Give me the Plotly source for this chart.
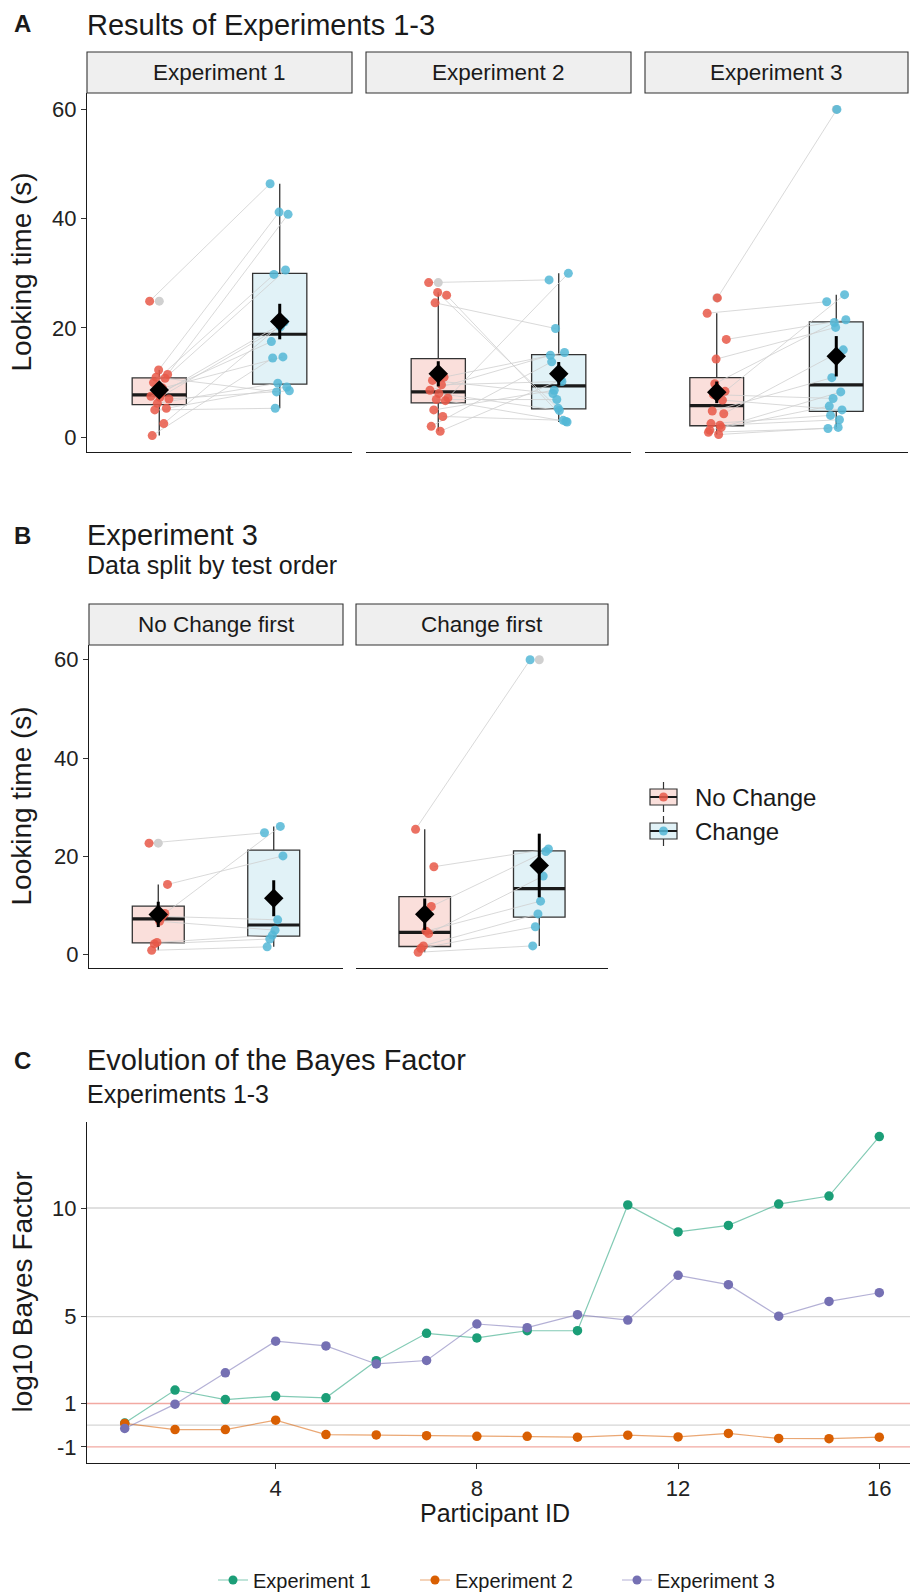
import numpy as np
import plotly.graph_objects as go

W, H = 910, 1595

# ---------------- data ----------------
conditions = ["No Change", "Change"]
looking_ticks = [0, 20, 40, 60]

# Panel A: paired looking times (s), one entry per participant
exp1_no_change = [24.9, 12.3, 11.5, 11.0, 10.8, 10.0, 9.0, 7.5, 7.3, 7.0, 6.2, 5.3, 5.0, 2.5, 0.3, 8.0]
exp1_change = [46.4, 41.2, 40.8, 8.3, 30.6, 29.8, 14.7, 17.5, 20.2, 8.5, 9.9, 9.2, 5.3, 21.1, 14.5, 20.8]
exp2_no_change = [28.3, 26.5, 26.0, 24.6, 11.0, 10.4, 9.6, 8.6, 8.0, 7.2, 6.9, 6.7, 5.0, 3.8, 2.0, 1.1]
exp2_change = [28.8, 5.3, 2.8, 19.9, 15.5, 8.0, 10.2, 15.0, 4.9, 30.0, 6.9, 2.9, 8.6, 3.1, 13.8, 10.5]

# Panel B: Experiment 3 split by test order
ncfirst_no_change = [22.7, 14.3, 8.4, 7.8, 6.8, 2.5, 2.2, 0.9]
ncfirst_change = [24.8, 20.1, 26.1, 7.1, 5.0, 4.0, 3.2, 1.6]
cfirst_no_change = [25.5, 17.9, 9.8, 4.3, 4.8, 1.8, 1.3, 0.5]
cfirst_change = [60.0, 21.5, 21.0, 16.0, 10.9, 8.3, 5.7, 1.8]

exp3_no_change = ncfirst_no_change + cfirst_no_change
exp3_change = ncfirst_change + cfirst_change

panel_a_titles = ["Experiment 1", "Experiment 2", "Experiment 3"]
panel_b_titles = ["No Change first", "Change first"]

# Panel C: evolution of log10 Bayes factor
participant_id = list(range(1, 17))
bf_exp1 = [0.1, 1.62, 1.18, 1.34, 1.26, 2.97, 4.23, 4.02, 4.35, 4.35, 10.14, 8.9, 9.2, 10.18, 10.55, 13.29]
bf_exp2 = [0.08, -0.2, -0.2, 0.23, -0.43, -0.45, -0.48, -0.51, -0.51, -0.55, -0.46, -0.54, -0.38, -0.61, -0.62, -0.55]
bf_exp3 = [-0.15, 0.97, 2.41, 3.87, 3.65, 2.82, 2.98, 4.66, 4.49, 5.09, 4.84, 6.9, 6.47, 5.02, 5.7, 6.1]
bf_names = ["Experiment 1", "Experiment 2", "Experiment 3"]
bf_ref_grey = [0, 5, 10]
bf_ref_red = [-1, 1]
bf_xticks = [4, 8, 12, 16]
bf_yticks = [-1, 1, 5, 10]
bf_yticklabels = ["-1", "1", "5", "10"]

# ---------------- styles ----------------
FONT = "Liberation Sans, Arial, sans-serif"
INK = "#1a1a1a"
RED_PT = "rgba(232,88,72,0.85)"
BLUE_PT = "rgba(84,183,214,0.85)"
RED_FILL = "#FADFDB"
BLUE_FILL = "#E1F2F7"
BF_COLORS = ["#1B9E77", "#D95F02", "#7570B3"]
BF_LINE = ["rgba(27,158,119,0.55)", "rgba(217,95,2,0.55)", "rgba(117,112,179,0.55)"]
TICK_SIZE = 22
AXT_SIZE = 28
TITLE_SIZE = 29
SUB_SIZE = 25


def px(x):
    return x / W


def py(y):
    return 1 - y / H


def box_stats(vals):
    v = np.sort(np.asarray(vals, float))
    q1, med, q3 = np.quantile(v, [0.25, 0.5, 0.75])
    iqr = q3 - q1
    lo, hi = q1 - 1.5 * iqr, q3 + 1.5 * iqr
    inside = v[(v >= lo) & (v <= hi)]
    out = v[(v < lo) | (v > hi)]
    return dict(q1=q1, med=med, q3=q3, lf=inside.min(), uf=inside.max(), out=out,
                mean=v.mean(), se=v.std(ddof=1) / np.sqrt(len(v)))


def jitter(n, spread=0.08):
    return [(((i * 7) % n) - (n - 1) / 2) / ((n - 1) / 2) * spread for i in range(n)]


fig = go.Figure()
layout = dict(shapes=[], annotations=[])
BOXW = 0.45


def add_text(text, x, y, size, bold=False, xanchor="left", angle=0, color=INK):
    layout["annotations"].append(dict(
        text=f"<b>{text}</b>" if bold else text, x=px(x), y=py(y), xref="paper", yref="paper",
        xanchor=xanchor, yanchor="middle", showarrow=False, textangle=angle,
        font=dict(family=FONT, size=size, color=color)))


def add_panel(idx, x0, x1, top, bottom, strip_top, title, nc, ch, show_y):
    xa = "x" if idx == 1 else f"x{idx}"
    ya = "y" if idx == 1 else f"y{idx}"
    layout[f"xaxis{idx}"] = dict(domain=[px(x0), px(x1)], range=[0.4, 2.6], anchor=ya,
                                 showline=True, linecolor=INK, linewidth=1.3, ticks="",
                                 showticklabels=False, showgrid=False, zeroline=False,
                                 automargin=False)
    layout[f"yaxis{idx}"] = dict(domain=[py(bottom), py(top)], range=[-2.7, 63], anchor=xa,
                                 showline=show_y, linecolor=INK, linewidth=1.3,
                                 ticks="outside" if show_y else "", ticklen=5, tickcolor="#333",
                                 tickvals=looking_ticks, showticklabels=show_y,
                                 tickfont=dict(family=FONT, size=TICK_SIZE, color="#222"),
                                 showgrid=False, zeroline=False, automargin=False)
    # strip
    layout["shapes"].append(dict(type="rect", xref="paper", yref="paper",
                                 x0=px(x0), x1=px(x1), y0=py(top), y1=py(strip_top),
                                 fillcolor="#EFEFEF", line=dict(color="#333", width=1.1)))
    add_text(title, (x0 + x1) / 2, (top + strip_top) / 2, 22.5, xanchor="center")

    groups = [(1, nc, RED_FILL, RED_PT), (2, ch, BLUE_FILL, BLUE_PT)]
    stats = [box_stats(g[1]) for g in groups]
    for (pos, vals, fill, col), s in zip(groups, stats):
        fig.add_trace(go.Box(x=[pos], q1=[s["q1"]], median=[s["med"]], q3=[s["q3"]],
                             lowerfence=[s["lf"]], upperfence=[s["uf"]], width=BOXW,
                             whiskerwidth=0, fillcolor=fill, boxpoints=False,
                             line=dict(color="#333", width=1.3), showlegend=False,
                             hoverinfo="skip", xaxis=xa, yaxis=ya))
        fig.add_trace(go.Scatter(x=[pos - BOXW / 2, pos + BOXW / 2], y=[s["med"], s["med"]],
                                 mode="lines", line=dict(color=INK, width=3.2),
                                 showlegend=False, hoverinfo="skip", xaxis=xa, yaxis=ya))
        if len(s["out"]):
            fig.add_trace(go.Scatter(x=[pos] * len(s["out"]), y=list(s["out"]), mode="markers",
                                     marker=dict(color="#D0D0D0", size=9), showlegend=False,
                                     hoverinfo="skip", xaxis=xa, yaxis=ya))
    jn = jitter(len(nc))
    jc = jitter(len(ch))
    lx, ly = [], []
    for i in range(len(nc)):
        lx += [1 + jn[i], 2 + jc[i], None]
        ly += [nc[i], ch[i], None]
    fig.add_trace(go.Scatter(x=lx, y=ly, mode="lines", line=dict(color="#CFCFCF", width=0.8),
                             showlegend=False, hoverinfo="skip", xaxis=xa, yaxis=ya))
    for (pos, vals, fill, col), jj in zip(groups, [jn, jc]):
        fig.add_trace(go.Scatter(x=[pos + j for j in jj], y=vals, mode="markers",
                                 marker=dict(color=col, size=9), showlegend=False,
                                 hoverinfo="skip", xaxis=xa, yaxis=ya))
    for (pos, vals, fill, col), s in zip(groups, stats):
        fig.add_trace(go.Scatter(x=[pos], y=[s["mean"]], mode="markers",
                                 marker=dict(symbol="diamond", color="black", size=15),
                                 error_y=dict(type="data", array=[s["se"]], color="black",
                                              thickness=3, width=0),
                                 showlegend=False, hoverinfo="skip", xaxis=xa, yaxis=ya))


# ---------------- Panel A ----------------
A_TOP, A_BOT, A_STRIP = 93, 452, 52
a_x = [(87, 352), (366, 631), (645, 908)]
a_data = [(exp1_no_change, exp1_change), (exp2_no_change, exp2_change), (exp3_no_change, exp3_change)]
for k in range(3):
    add_panel(k + 1, a_x[k][0], a_x[k][1], A_TOP, A_BOT, A_STRIP, panel_a_titles[k],
              a_data[k][0], a_data[k][1], k == 0)
add_text("A", 12, 24, 24, bold=True)
add_text("Results of Experiments 1-3", 85, 25, TITLE_SIZE)
add_text("Looking time (s)", 21, (A_TOP + A_BOT) / 2, AXT_SIZE, xanchor="center", angle=-90)

# ---------------- Panel B ----------------
B_TOP, B_BOT, B_STRIP = 645, 968, 604
b_x = [(89, 343), (356, 608)]
b_data = [(ncfirst_no_change, ncfirst_change), (cfirst_no_change, cfirst_change)]
for k in range(2):
    add_panel(k + 4, b_x[k][0], b_x[k][1], B_TOP, B_BOT, B_STRIP, panel_b_titles[k],
              b_data[k][0], b_data[k][1], k == 0)
add_text("B", 12, 535, 24, bold=True)
add_text("Experiment 3", 85, 535, TITLE_SIZE)
add_text("Data split by test order", 85, 565, SUB_SIZE)
add_text("Looking time (s)", 21, (B_TOP + B_BOT) / 2, AXT_SIZE, xanchor="center", angle=-90)

# legend for panel B (drawn as keys)
for cond, fill, col, yc in [(conditions[0], RED_FILL, RED_PT, 797), (conditions[1], BLUE_FILL, BLUE_PT, 831)]:
    kx0, kx1 = 650, 677
    kc = (kx0 + kx1) / 2
    layout["shapes"].append(dict(type="line", xref="paper", yref="paper", x0=px(kc), x1=px(kc),
                                 y0=py(yc - 15), y1=py(yc + 15), line=dict(color="#333", width=1.2)))
    layout["shapes"].append(dict(type="rect", xref="paper", yref="paper", x0=px(kx0), x1=px(kx1),
                                 y0=py(yc + 8), y1=py(yc - 8), fillcolor=fill,
                                 line=dict(color="#333", width=1.2)))
    layout["shapes"].append(dict(type="line", xref="paper", yref="paper", x0=px(kx0), x1=px(kx1),
                                 y0=py(yc), y1=py(yc), line=dict(color=INK, width=2)))
    layout["shapes"].append(dict(type="circle", xref="paper", yref="paper", x0=px(kc - 4.5), x1=px(kc + 4.5),
                                 y0=py(yc + 4.5), y1=py(yc - 4.5), fillcolor=col, line=dict(width=0)))
    add_text(cond, 693, yc, 24)

# ---------------- Panel C ----------------
C_TOP, C_BOT = 1122, 1463
layout["xaxis6"] = dict(domain=[px(87), 1.0], range=[0.25, 16.61], anchor="y6",
                        showline=True, linecolor=INK, linewidth=1.3, ticks="outside", ticklen=5,
                        tickcolor="#333", tickvals=bf_xticks,
                        tickfont=dict(family=FONT, size=TICK_SIZE, color="#222"),
                        showgrid=False, zeroline=False, automargin=False)
layout["yaxis6"] = dict(domain=[py(C_BOT), py(C_TOP)], range=[-1.74, 13.96], anchor="x6",
                        showline=True, linecolor=INK, linewidth=1.3, ticks="outside", ticklen=5,
                        tickcolor="#333", tickvals=bf_yticks, ticktext=bf_yticklabels,
                        tickfont=dict(family=FONT, size=TICK_SIZE, color="#222"),
                        showgrid=False, zeroline=False, automargin=False)
for v in bf_ref_grey:
    layout["shapes"].append(dict(type="line", xref="x6 domain", yref="y6", x0=0, x1=1, y0=v, y1=v,
                                 line=dict(color="#D6D6D6", width=1.3), layer="below"))
for v in bf_ref_red:
    layout["shapes"].append(dict(type="line", xref="x6 domain", yref="y6", x0=0, x1=1, y0=v, y1=v,
                                 line=dict(color="#F2A9A2", width=1.3), layer="below"))
for name, vals, c, lc in zip(bf_names, [bf_exp1, bf_exp2, bf_exp3], BF_COLORS, BF_LINE):
    fig.add_trace(go.Scatter(x=participant_id, y=vals, mode="lines", line=dict(color=lc, width=1.2),
                             showlegend=False, hoverinfo="skip", xaxis="x6", yaxis="y6"))
for name, vals, c, lc in zip(bf_names, [bf_exp1, bf_exp2, bf_exp3], BF_COLORS, BF_LINE):
    fig.add_trace(go.Scatter(x=participant_id, y=vals, mode="markers", name=name,
                             marker=dict(color=c, size=9.5), showlegend=False,
                             hoverinfo="skip", xaxis="x6", yaxis="y6"))
# legend entries
for name, c, lc in zip(bf_names, BF_COLORS, BF_LINE):
    fig.add_trace(go.Scatter(x=[None], y=[None], mode="lines+markers", name=name,
                             line=dict(color=lc, width=1.2), marker=dict(color=c, size=9),
                             showlegend=True, xaxis="x6", yaxis="y6"))
add_text("C", 12, 1060, 24, bold=True)
add_text("Evolution of the Bayes Factor", 85, 1060, TITLE_SIZE)
add_text("Experiments 1-3", 85, 1094, SUB_SIZE)
add_text("log10 Bayes Factor", 22, (C_TOP + C_BOT) / 2, AXT_SIZE, xanchor="center", angle=-90)
add_text("Participant ID", 495, 1513, 25, xanchor="center")

fig.update_layout(
    width=W, height=H, margin=dict(l=0, r=0, t=0, b=0, autoexpand=False),
    paper_bgcolor="white", plot_bgcolor="white",
    font=dict(family=FONT, color=INK),
    legend=dict(orientation="h", x=px(516), xanchor="center", y=py(1580), yanchor="middle",
                font=dict(family=FONT, size=20, color=INK), bgcolor="rgba(0,0,0,0)",
                itemwidth=30, entrywidth=157),
    boxmode="overlay",
    **layout,
)

fig.write_html("out.html", config={"displayModeBar": False},
               post_script="document.body.style.margin='0px';document.body.style.overflow='hidden';")
